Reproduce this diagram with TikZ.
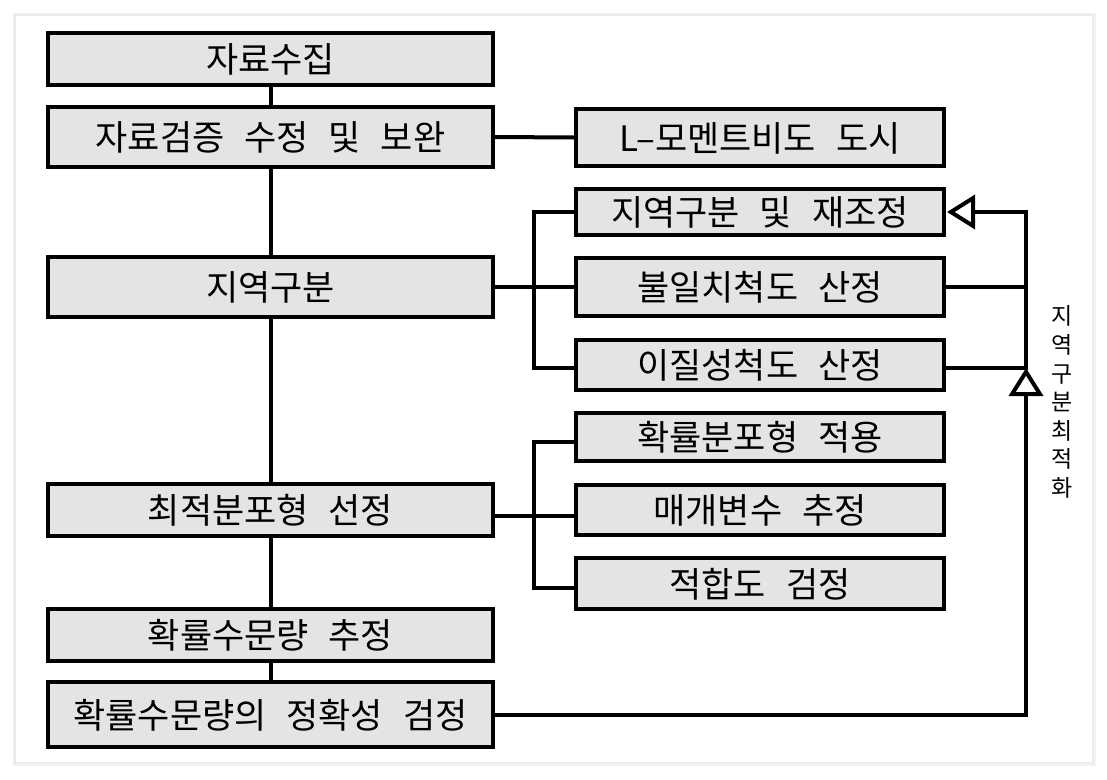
\documentclass[tikz,border=0pt]{standalone}
\usepackage{fontspec}
\newfontfamily\kr{Noto Sans CJK KR}
\usetikzlibrary{arrows.meta}
\definecolor{boxfill}{HTML}{E4E4E4}
\definecolor{cardline}{HTML}{EBEBEB}
\tikzset{
  box/.style={draw=black, line width=4pt, fill=boxfill, inner sep=0pt,
    font={\kr\fontsize{35pt}{42pt}\selectfont\spaceskip=20pt\relax},
    text height=29pt, text depth=2pt},
  lbox/.style={box, minimum width=445pt},
  rbox/.style={box, minimum width=368pt},
  link/.style={line width=4pt, line cap=rect},
  opentip/.style={-{Triangle[open, length=28pt, width=34pt]}},
  vlabel/.style={font={\kr\fontsize{23pt}{28.6pt}\selectfont}, align=center, inner sep=0pt}
}
\begin{document}
\begin{tikzpicture}[x=1pt, y=-1pt]
\useasboundingbox (0,0) rectangle (1107,779);
\fill[white] (0,0) rectangle (1107,779);
\draw[cardline!60, line width=5pt] (15,15) rectangle (1093,763);
\draw[cardline, line width=1.5pt, fill=white] (15,15) rectangle (1093,763);

% left column
\node[lbox, minimum height=52pt] (b1) at (270.5,59) {자료수집};
\node[lbox, minimum height=60pt] (b2) at (270.5,137) {자료검증 수정 및 보완};
\node[lbox, minimum height=60pt] (b3) at (270.5,287) {지역구분};
\node[lbox, minimum height=52pt] (b4) at (270.5,510) {최적분포형 선정};
\node[lbox, minimum height=52pt] (b5) at (270.5,635) {확률수문량 추정};
\node[lbox, minimum height=65pt] (b6) at (270.5,714.5) {확률수문량의 정확성 검정};

% right column
\node[rbox, minimum height=57pt] (r1) at (760,137.5) {L–모멘트비도 도시};
\node[rbox, minimum height=46pt] (r2) at (760,212) {지역구분 및 재조정};
\node[rbox, minimum height=58pt] (r3) at (760,287) {불일치척도 산정};
\node[rbox, minimum height=50pt] (r4) at (760,365) {이질성척도 산정};
\node[rbox, minimum height=48pt] (r5) at (760,437) {확률분포형 적용};
\node[rbox, minimum height=50pt] (r6) at (760,510) {매개변수 추정};
\node[rbox, minimum height=51pt] (r7) at (760,583.5) {적합도 검정};

\node[vlabel] (opt) at (1062,402) {지\\역\\구\\분\\최\\적\\화};

\coordinate (k1) at (534,287);
\coordinate (k2) at (534,516);
\coordinate (rv) at (1026,400);

% main chain
\draw[link] (b1.south) -- (b2.north);
\draw[link] (b2.south) -- (b3.north);
\draw[link] (b3.south) -- (b4.north);
\draw[link] (b4.south) -- (b5.north);
\draw[link] (b5.south) -- (b6.north);

% side links
\draw[link] (b2.east) -- (r1.west);
\draw[link] (b3.east) -- (r3.west);
\draw[link, line cap=butt] (r2.west) -| (k1) |- ([yshift=-3pt]r4.west);
\draw[link] ([yshift=-6pt]b4.east) -- ([yshift=-6pt]r6.west);
\draw[link, line cap=butt] ([yshift=-5pt]r5.west) -| (k2) |- ([yshift=-4.5pt]r7.west);

% feedback loop
\coordinate (tipU) at ([yshift=-3pt]r4.east -| rv);
\draw[link] (r3.east) -- (r3.east -| rv);
\draw[link] ([yshift=-3pt]r4.east) -- (tipU);
\draw[link, line cap=butt, opentip] (tipU) |- ([xshift=1pt]r2.east);
\draw[link, line cap=butt, opentip] (b6.east) -| (tipU);
\end{tikzpicture}
\end{document}
